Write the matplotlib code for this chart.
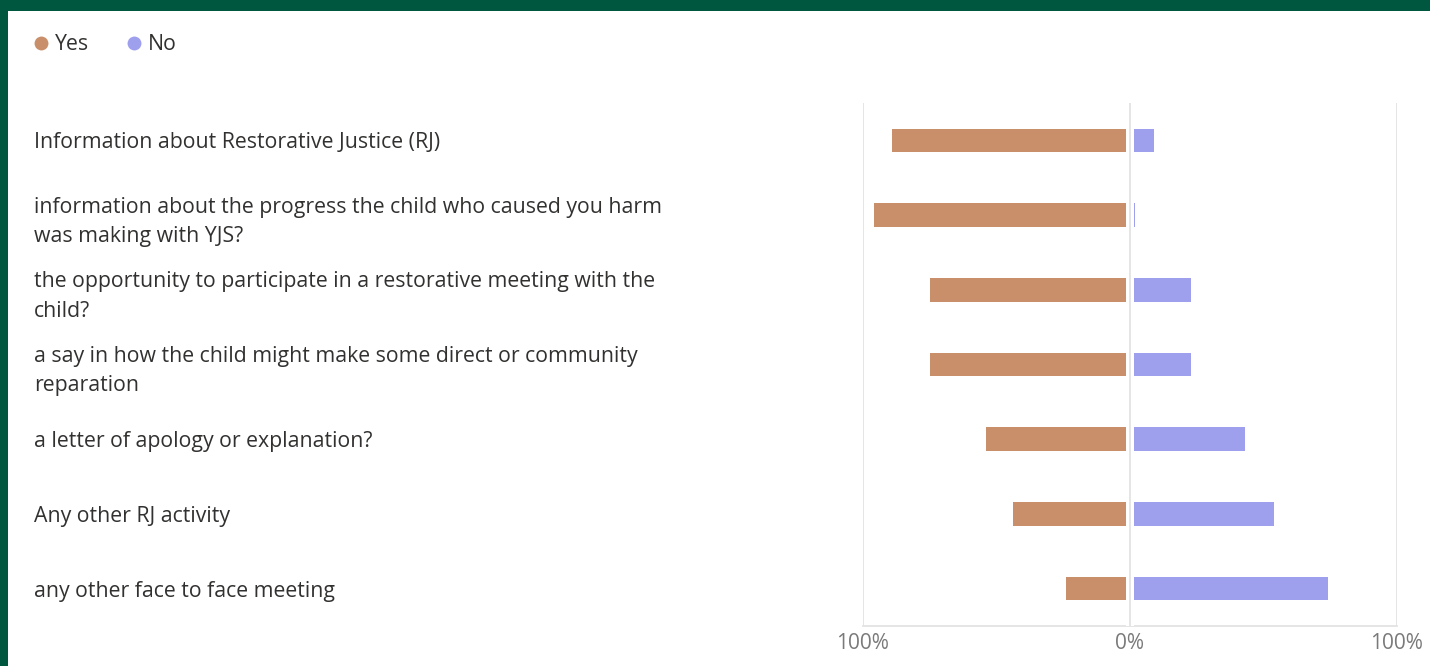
import matplotlib
matplotlib.use("Agg")
import matplotlib.pyplot as plt
from matplotlib.lines import Line2D
from matplotlib.patches import Rectangle

categories = [
    "Information about Restorative Justice (RJ)",
    "information about the progress the child who caused you harm\nwas making with YJS?",
    "the opportunity to participate in a restorative meeting with the\nchild?",
    "a say in how the child might make some direct or community\nreparation",
    "a letter of apology or explanation?",
    "Any other RJ activity",
    "any other face to face meeting",
]
yes_pct = [89, 96, 75, 75, 54, 44, 24]
no_pct = [9, 2, 23, 23, 43, 54, 74]
series_names = ["Yes", "No"]
x_ticks = [-100, 0, 100]
x_tick_labels = ["100%", "0%", "100%"]

YES_C = "#C98F6A"
NO_C = "#9EA0EE"
TEXT_C = "#323130"
GRID_C = "#E3E3E3"
FRAME_C = "#00573F"
FS = 15.3

plt.rcParams['font.family'] = ['Open Sans', 'DejaVu Sans']

W, H = 1430, 666
fig = plt.figure(figsize=(W / 100, H / 100), dpi=100)
fig.patch.set_facecolor("white")

# green frame (top and left)
fig.patches.append(Rectangle((0, 1 - 11 / H), 1, 11 / H, transform=fig.transFigure,
                             facecolor=FRAME_C, edgecolor="none", zorder=10))
fig.patches.append(Rectangle((0, 0), 8 / W, 1, transform=fig.transFigure,
                             facecolor=FRAME_C, edgecolor="none", zorder=10))

left, right, top, bottom = 863, 1397, 103, 626
ax = fig.add_axes([left / W, 1 - bottom / H, (right - left) / W, (bottom - top) / H])

y = list(range(len(categories)))
neg_yes = [-v for v in yes_pct]
ax.barh(y, neg_yes, height=0.315, color=YES_C, edgecolor="none", zorder=3)
ax.barh(y, no_pct, height=0.315, color=NO_C, edgecolor="none", zorder=3)

# white gap around the zero line, then the zero line itself
ax.axvline(0, color="white", linewidth=8 * 0.72, zorder=4)
ax.axvline(0, color=GRID_C, linewidth=1.3, zorder=5)

ax.set_xlim(-100, 100)
ax.set_ylim(len(categories) - 0.5, -0.5)
ax.set_xticks(x_ticks)
ax.set_xticklabels(x_tick_labels)
ax.xaxis.grid(True, color=GRID_C, linewidth=1.3, zorder=0)
ax.set_axisbelow(True)
for s in ["left", "right", "top"]:
    ax.spines[s].set_visible(False)
ax.spines["bottom"].set_color(GRID_C)
ax.spines["bottom"].set_linewidth(1.3)
ax.tick_params(axis="x", length=0, pad=5, labelsize=15, labelcolor="#7A7A7A")

ax.set_yticks(y)
ax.set_yticklabels(categories, ha="left", fontsize=FS, color=TEXT_C, linespacing=1.52)
ax.tick_params(axis="y", length=0, pad=(left - 34) * 72 / 100)
for lab in ax.get_yticklabels():
    if "\n" in lab.get_text():
        lab.set_y(lab.get_position()[1])

handles = [Line2D([], [], marker="o", linestyle="none", markersize=10,
                  markerfacecolor=c, markeredgecolor="none", label=n)
           for c, n in zip([YES_C, NO_C], series_names)]
leg = fig.legend(handles=handles, loc="center left", bbox_to_anchor=(32.5 / W, 1 - 45 / H),
                 ncol=2, frameon=False, fontsize=FS, handletextpad=0.26,
                 columnspacing=1.7, handlelength=0.8, borderaxespad=0, borderpad=0)
for t in leg.get_texts():
    t.set_color(TEXT_C)

fig.savefig("out.png", dpi=100, facecolor="white")
